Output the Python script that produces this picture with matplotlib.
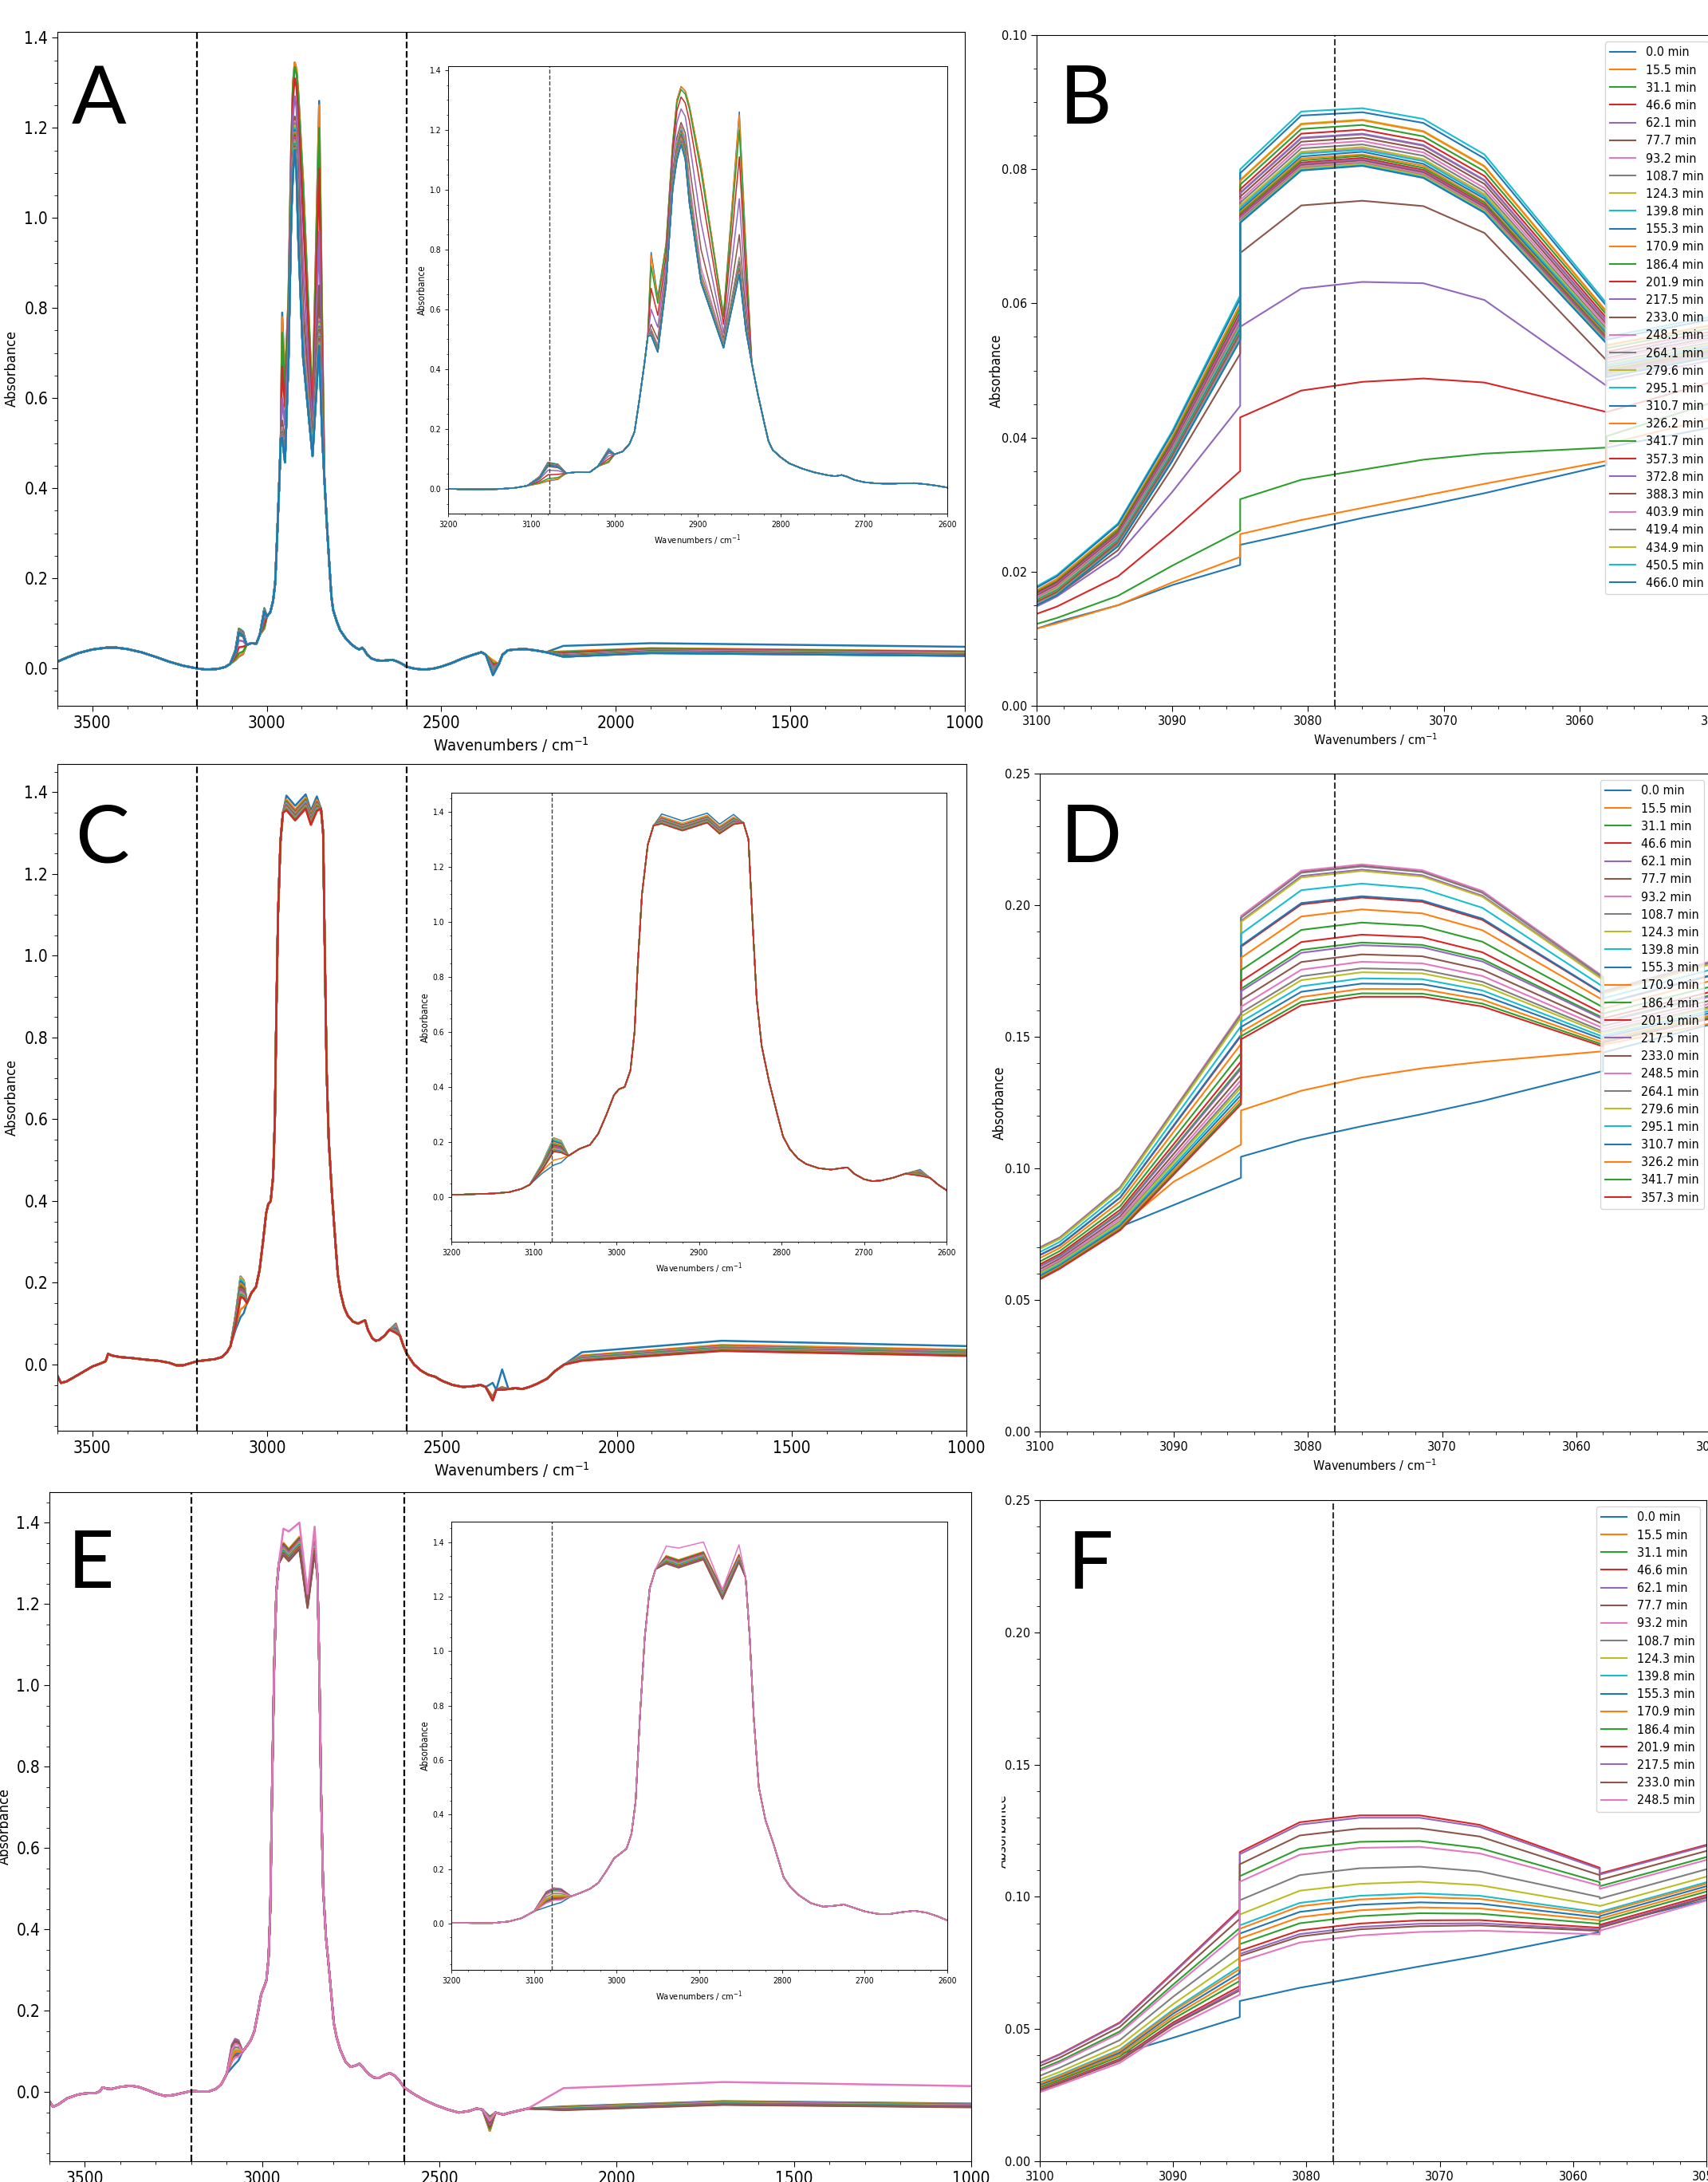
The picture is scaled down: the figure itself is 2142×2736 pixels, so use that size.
import matplotlib
matplotlib.use('Agg')
import matplotlib.pyplot as plt
from matplotlib import font_manager as fm
from matplotlib.ticker import MultipleLocator
from matplotlib.patches import Rectangle

# the original uses a condensed sans; pick the best one that is installed
_fonts = {(f.name, f.stretch) for f in fm.fontManager.ttflist}
_names = {f.name for f in fm.fontManager.ttflist}
if ('DejaVu Sans', 'condensed') in _fonts:
    plt.rcParams['font.family'] = ['DejaVu Sans']
    plt.rcParams['font.stretch'] = 'condensed'
elif 'DejaVu Sans Condensed' in _names:
    plt.rcParams['font.family'] = ['DejaVu Sans Condensed', 'DejaVu Sans']
elif 'Liberation Sans Narrow' in _names:
    plt.rcParams['font.family'] = ['Liberation Sans Narrow', 'DejaVu Sans']
else:
    plt.rcParams['font.family'] = ['DejaVu Sans']

# time stamps of the spectra (legend labels)
times = [0.0, 15.5, 31.1, 46.6, 62.1, 77.7, 93.2, 108.7, 124.3, 139.8, 155.3,
         170.9, 186.4, 201.9, 217.5, 233.0, 248.5, 264.1, 279.6, 295.1, 310.7,
         326.2, 341.7, 357.3, 372.8, 388.3, 403.9, 419.4, 434.9, 450.5, 466.0]
n_a, n_c, n_e = 31, 24, 17

# ---------------- zoomed panels (B, D, F) ----------------
zoom_wn = [3100, 3098.5, 3094, 3090, 3085, 3085, 3080.5, 3076, 3071.5, 3067, 3058, 3058, 3049]

b_rows = [
    [.0115, .0125, .0150, .0180, .0210, .0240, .0260, .0280, .0298, .0317, .0359, .0385, .0420],
    [.0115, .0123, .0150, .0184, .0222, .0256, .0277, .0295, .0313, .0331, .0365, .0390, .0435],
    [.0122, .0131, .0164, .0209, .0261, .0308, .0337, .0352, .0367, .0376, .0385, .0402, .0460],
    [.0137, .0148, .0193, .0260, .0350, .0430, .0470, .0483, .0488, .0482, .0438, .0438, .0490],
    [.0148, .0163, .0225, .0319, .0447, .0565, .0622, .0632, .0630, .0605, .0477, .0485, .0520],
    [.0150, .0165, .0232, .0355, .0525, .0675, .0746, .0753, .0745, .0705, .0515, .0500, .0535],
    [.0158, .0174, .0248, .0378, .0565, .0744, .0824, .0831, .0813, .0761, .0558, .0508, .0543],
    [.0165, .0181, .0256, .0390, .0582, .0764, .0846, .0852, .0835, .0783, .0573, .0523, .0558],
    [.0172, .0189, .0265, .0401, .0599, .0784, .0868, .0874, .0857, .0805, .0588, .0538, .0573],
    [.0178, .0195, .0272, .0410, .0612, .0800, .0886, .0891, .0875, .0822, .0600, .0550, .0585],
    [.0176, .0193, .0270, .0407, .0607, .0794, .0880, .0885, .0869, .0816, .0596, .0546, .0581],
    [.0172, .0189, .0264, .0401, .0598, .0783, .0867, .0873, .0856, .0804, .0587, .0537, .0572],
    [.0170, .0186, .0262, .0397, .0593, .0777, .0860, .0866, .0849, .0797, .0583, .0533, .0568],
    [.0168, .0184, .0259, .0393, .0587, .0770, .0853, .0859, .0842, .0790, .0578, .0528, .0563],
    [.0166, .0182, .0257, .0390, .0583, .0765, .0847, .0853, .0836, .0784, .0574, .0524, .0559],
    [.0164, .0180, .0255, .0387, .0578, .0759, .0841, .0847, .0830, .0778, .0569, .0519, .0554],
    [.0162, .0178, .0253, .0384, .0574, .0754, .0836, .0842, .0825, .0772, .0566, .0516, .0551],
    [.0160, .0176, .0251, .0382, .0570, .0750, .0831, .0837, .0820, .0767, .0562, .0512, .0547],
    [.0159, .0175, .0249, .0379, .0566, .0746, .0826, .0833, .0815, .0763, .0559, .0509, .0544],
    [.0158, .0173, .0248, .0378, .0564, .0742, .0823, .0829, .0812, .0759, .0557, .0507, .0542],
    [.0157, .0172, .0246, .0376, .0561, .0739, .0819, .0826, .0808, .0756, .0554, .0504, .0539],
    [.0156, .0171, .0245, .0374, .0558, .0736, .0816, .0822, .0805, .0752, .0552, .0502, .0537],
    [.0155, .0170, .0244, .0373, .0556, .0734, .0813, .0820, .0802, .0750, .0550, .0500, .0535],
    [.0154, .0169, .0243, .0371, .0554, .0731, .0810, .0817, .0799, .0747, .0548, .0498, .0533],
    [.0153, .0168, .0242, .0370, .0553, .0729, .0808, .0815, .0797, .0745, .0547, .0497, .0532],
    [.0153, .0168, .0241, .0369, .0551, .0727, .0806, .0813, .0795, .0743, .0545, .0495, .0530],
    [.0152, .0167, .0240, .0368, .0550, .0726, .0804, .0811, .0793, .0741, .0544, .0494, .0529],
    [.0151, .0167, .0240, .0367, .0548, .0724, .0802, .0809, .0791, .0739, .0543, .0493, .0528],
    [.0151, .0166, .0239, .0366, .0547, .0722, .0801, .0808, .0790, .0738, .0542, .0492, .0527],
    [.0150, .0165, .0238, .0366, .0546, .0721, .0799, .0806, .0788, .0736, .0541, .0491, .0526],
    [.0150, .0165, .0238, .0365, .0545, .0720, .0798, .0805, .0787, .0735, .0540, .0490, .0525],
]

d_rows = [
    [.0580, .0620, .0778, .0861, .0964, .1044, .1110, .1160, .1206, .1256, .1370, .1440, .1560],
    [.0585, .0625, .0780, .0950, .1090, .1220, .1295, .1345, .1380, .1405, .1445, .1470, .1560],
    [.0628, .0668, .0833, .1078, .1385, .1682, .1830, .1858, .1849, .1795, .1572, .1558, .1670],
    [.0670, .0708, .0889, .1162, .1503, .1842, .2003, .2029, .2013, .1944, .1663, .1625, .1745],
    [.0695, .0733, .0923, .1214, .1576, .1940, .2111, .2135, .2114, .2036, .1718, .1666, .1791],
    [.0699, .0737, .0928, .1222, .1587, .1954, .2126, .2150, .2128, .2050, .1726, .1672, .1798],
    [.0700, .0738, .0930, .1224, .1590, .1959, .2131, .2155, .2133, .2054, .1729, .1674, .1800],
    [.0698, .0736, .0928, .1220, .1585, .1952, .2123, .2147, .2126, .2047, .1725, .1671, .1797],
    [.0694, .0732, .0922, .1212, .1573, .1936, .2105, .2130, .2109, .2032, .1716, .1664, .1789],
    [.0682, .0721, .0906, .1188, .1540, .1891, .2057, .2082, .2063, .1990, .1690, .1646, .1768],
    [.0671, .0709, .0890, .1165, .1507, .1846, .2008, .2034, .2018, .1949, .1665, .1627, .1747],
    [.0659, .0698, .0874, .1140, .1472, .1800, .1957, .1984, .1969, .1905, .1639, .1607, .1725],
    [.0646, .0686, .0857, .1115, .1437, .1753, .1906, .1934, .1921, .1861, .1612, .1588, .1703],
    [.0635, .0675, .0843, .1093, .1406, .1710, .1860, .1888, .1878, .1821, .1588, .1570, .1683],
    [.0626, .0665, .0829, .1073, .1378, .1673, .1819, .1848, .1840, .1786, .1567, .1554, .1666],
    [.0617, .0657, .0818, .1056, .1354, .1640, .1784, .1813, .1806, .1755, .1548, .1541, .1650],
    [.0610, .0651, .0809, .1042, .1335, .1614, .1755, .1785, .1779, .1731, .1533, .1530, .1638],
    [.0604, .0645, .0800, .1030, .1318, .1591, .1730, .1760, .1755, .1709, .1520, .1520, .1627],
    [.0601, .0641, .0796, .1023, .1307, .1577, .1715, .1745, .1741, .1696, .1512, .1514, .1621],
    [.0595, .0636, .0788, .1012, .1292, .1556, .1692, .1722, .1719, .1676, .1500, .1505, .1611],
    [.0590, .0631, .0782, .1002, .1278, .1537, .1671, .1702, .1700, .1659, .1490, .1498, .1602],
    [.0585, .0626, .0775, .0992, .1264, .1518, .1651, .1682, .1681, .1641, .1479, .1490, .1593],
    [.0581, .0622, .0769, .0983, .1252, .1502, .1633, .1665, .1664, .1626, .1470, .1483, .1586],
    [.0578, .0619, .0765, .0977, .1243, .1490, .1620, .1652, .1652, .1615, .1463, .1478, .1580],
]

f_rows = [
    [.0280, .0310, .0405, .0467, .0545, .0606, .0656, .0696, .0737, .0777, .0867, .0890, .1000],
    [.0284, .0313, .0404, .0548, .0698, .0842, .0923, .0949, .0960, .0956, .0911, .0917, .1044],
    [.0279, .0307, .0396, .0538, .0682, .0821, .0900, .0927, .0938, .0936, .0898, .0907, .1034],
    [.0272, .0300, .0387, .0525, .0662, .0796, .0873, .0899, .0911, .0912, .0883, .0894, .1021],
    [.0269, .0296, .0383, .0519, .0653, .0784, .0859, .0886, .0898, .0900, .0876, .0887, .1015],
    [.0267, .0294, .0380, .0515, .0646, .0776, .0850, .0877, .0889, .0892, .0871, .0883, .1011],
    [.0261, .0288, .0372, .0504, .0630, .0755, .0827, .0854, .0867, .0872, .0858, .0872, .1000],
    [.0323, .0354, .0458, .0622, .0811, .0987, .1082, .1108, .1114, .1096, .0999, .0993, .1118],
    [.0309, .0338, .0438, .0594, .0769, .0933, .1023, .1049, .1057, .1044, .0966, .0965, .1090],
    [.0298, .0327, .0422, .0573, .0737, .0892, .0977, .1004, .1013, .1004, .0941, .0943, .1069],
    [.0289, .0318, .0411, .0558, .0712, .0861, .0943, .0970, .0979, .0974, .0922, .0927, .1054],
    [.0294, .0323, .0418, .0567, .0727, .0879, .0964, .0990, .0999, .0992, .0934, .0937, .1063],
    [.0348, .0379, .0491, .0668, .0882, .1078, .1182, .1208, .1211, .1184, .1055, .1040, .1164],
    [.0372, .0405, .0525, .0714, .0953, .1169, .1282, .1308, .1308, .1272, .1110, .1088, .1210],
    [.0370, .0403, .0522, .0710, .0947, .1161, .1273, .1299, .1299, .1264, .1105, .1084, .1206],
    [.0360, .0392, .0508, .0691, .0917, .1123, .1232, .1258, .1259, .1228, .1082, .1064, .1187],
    [.0342, .0373, .0484, .0657, .0866, .1057, .1159, .1185, .1189, .1164, .1042, .1030, .1153],
]

# ---------------- full spectra, panel A ----------------
a_fixed = [(3600, .015), (3570, .025), (3540, .034), (3500, .042), (3460, .046), (3430, .046),
           (3400, .043), (3360, .036), (3320, .026), (3280, .015), (3240, .006), (3200, .000),
           (3180, -.002), (3160, -.002), (3140, -.001), (3120, .003), (3105, .010),
           (3058, .052), (3045, .056), (3030, .055), (3020, .075),
           (3000, .115), (2990, .125), (2982, .150), (2976, .190), (2970, .300), (2964, .420),
           (2960, .510),
           (2835, .420), (2828, .320), (2820, .220), (2815, .160), (2810, .130), (2800, .105),
           (2790, .085), (2775, .068), (2760, .055), (2745, .046), (2735, .042), (2727, .046),
           (2720, .040), (2712, .030), (2700, .022), (2685, .018), (2670, .017), (2655, .018),
           (2640, .019), (2625, .015), (2612, .010), (2600, .004), (2580, .000), (2560, -.002),
           (2540, -.002), (2520, .000), (2500, .004), (2470, .012), (2440, .022), (2410, .030),
           (2385, .036), (2372, .030), (2335, .010), (2325, .030), (2310, .040), (2290, .042),
           (2260, .043), (2230, .040), (2200, .036)]
a_3090 = [.0180, .0184, .0209, .0260, .0319, .0355, .0378, .0390, .0401, .0410, .0407, .0401, .0397, .0393, .0390, .0387,
          .0384, .0382, .0379, .0378, .0376, .0374, .0373, .0371, .0370, .0369, .0368, .0367, .0366, .0366, .0365]
a_3080 = [.0260, .0277, .0337, .0470, .0622, .0746, .0824, .0846, .0868, .0886, .0880, .0867, .0860, .0853, .0847, .0841,
          .0836, .0831, .0826, .0823, .0819, .0816, .0813, .0810, .0808, .0806, .0804, .0802, .0801, .0799, .0798]
a_3068 = [.0317, .0331, .0376, .0482, .0605, .0705, .0761, .0783, .0805, .0822, .0816, .0804, .0797, .0790, .0784, .0778,
          .0772, .0767, .0763, .0759, .0756, .0752, .0750, .0747, .0745, .0743, .0741, .0739, .0738, .0736, .0735]
a_3007 = [.088, .089, .092, .100, .110, .120, .126, .129, .131, .134, .133, .132, .132, .131, .131, .130,
          .130, .130, .129, .129, .129, .129, .128, .128, .128, .128, .128, .128, .127, .127, .127]
a_2956 = [.790, .780, .745, .670, .600, .550, .535, .530, .528, .527, .526, .525, .524, .523, .522, .521,
          .520, .520, .519, .518, .518, .517, .517, .516, .516, .515, .515, .514, .514, .513, .513]
a_2948 = [.640, .630, .620, .580, .540, .500, .480, .475, .470, .470, .468, .467, .466, .465, .464, .463,
          .462, .462, .461, .461, .460, .460, .460, .459, .459, .458, .458, .458, .457, .457, .457]
a_2938 = [.820, .820, .810, .780, .750, .720, .700, .695, .690, .690, .690, .690, .690, .690, .690, .688,
          .688, .688, .687, .687, .686, .686, .686, .685, .685, .685, .685, .684, .684, .684, .684]
a_2930 = [1.160, 1.160, 1.150, 1.130, 1.100, 1.060, 1.040, 1.035, 1.030, 1.030, 1.028, 1.026, 1.024, 1.022, 1.020, 1.018,
          1.016, 1.015, 1.014, 1.013, 1.012, 1.011, 1.010, 1.009, 1.008, 1.007, 1.006, 1.005, 1.004, 1.003, 1.002]
a_2925 = [1.300, 1.300, 1.290, 1.265, 1.225, 1.175, 1.160, 1.155, 1.150, 1.145, 1.140, 1.135, 1.132, 1.128, 1.125, 1.122,
          1.120, 1.117, 1.115, 1.113, 1.111, 1.109, 1.107, 1.105, 1.104, 1.103, 1.102, 1.101, 1.100, 1.099, 1.098]
a_2920 = [1.345, 1.345, 1.335, 1.310, 1.270, 1.225, 1.215, 1.210, 1.205, 1.200, 1.195, 1.190, 1.186, 1.182, 1.179, 1.176,
          1.173, 1.170, 1.168, 1.166, 1.164, 1.162, 1.160, 1.158, 1.157, 1.156, 1.155, 1.154, 1.153, 1.152, 1.151]
a_2915 = [1.330, 1.330, 1.320, 1.290, 1.245, 1.190, 1.170, 1.160, 1.155, 1.150, 1.145, 1.140, 1.136, 1.132, 1.129, 1.126,
          1.123, 1.120, 1.118, 1.116, 1.114, 1.112, 1.110, 1.108, 1.107, 1.106, 1.105, 1.104, 1.103, 1.102, 1.101]
a_2910 = [1.280, 1.280, 1.270, 1.230, 1.160, 1.080, 1.030, 1.010, 1.000, .990, .990, .985, .980, .980, .975, .975,
          .970, .970, .970, .965, .965, .965, .960, .960, .960, .960, .955, .955, .955, .955, .955]
a_2896 = [1.080, 1.080, 1.060, 1.000, .890, .800, .740, .720, .710, .700, .700, .700, .700, .700, .700, .700,
          .700, .695, .695, .695, .695, .695, .690, .690, .690, .690, .690, .690, .690, .690, .690]
a_2869 = [.580, .580, .575, .550, .520, .500, .490, .485, .482, .480, .479, .478, .477, .476, .476, .475,
          .475, .474, .474, .474, .473, .473, .473, .472, .472, .472, .472, .471, .471, .471, .471]
a_2850 = [1.260, 1.250, 1.200, 1.110, .970, .850, .775, .770, .765, .760, .758, .755, .752, .750, .748, .746,
          .744, .742, .740, .738, .736, .734, .732, .730, .728, .726, .724, .722, .720, .718, .716]
a_2842 = [.800, .790, .760, .700, .630, .580, .550, .545, .540, .540, .538, .537, .536, .535, .534, .533,
          .532, .532, .531, .531, .530, .530, .530, .529, .529, .528, .528, .528, .527, .527, .527]
a_2352 = [.005, .018, .012, .008, .004, .000, -.002, -.004, -.005, -.006, -.007, -.008, -.009, -.010, -.010, -.011,
          -.011, -.012, -.012, -.012, -.013, -.013, -.013, -.013, -.014, -.014, -.014, -.014, -.015, -.015, -.015]
a_2150 = [.050, .038, .036, .034, .032, .031, .030, .030, .030, .029, .029, .029, .029, .028, .028, .028,
          .028, .028, .027, .027, .027, .027, .027, .027, .026, .026, .026, .026, .026, .026, .026]
a_1900 = [.056, .045, .044, .043, .042, .041, .040, .040, .039, .039, .038, .038, .038, .038, .037, .037,
          .037, .037, .036, .036, .036, .036, .036, .035, .035, .035, .035, .035, .034, .034, .034]
a_1000 = [.048, .038, .037, .036, .035, .034, .034, .033, .033, .032, .032, .032, .031, .031, .031, .031,
          .030, .030, .030, .030, .030, .029, .029, .029, .029, .029, .028, .028, .028, .028, .028]
a_var = [(3090, a_3090), (3080, a_3080), (3068, a_3068), (3007, a_3007), (2956, a_2956),
         (2948, a_2948), (2938, a_2938), (2930, a_2930), (2925, a_2925), (2920, a_2920),
         (2915, a_2915), (2910, a_2910), (2896, a_2896), (2869, a_2869), (2850, a_2850),
         (2842, a_2842), (2352, a_2352), (2150, a_2150), (1900, a_1900), (1000, a_1000)]

# ---------------- full spectra, panel C ----------------
c_fixed = [(3600, -.028), (3590, -.045), (3575, -.042), (3550, -.030), (3520, -.015), (3500, -.005),
           (3475, .003), (3462, .008), (3455, .026), (3445, .022), (3420, .018), (3390, .016),
           (3350, .012), (3310, .009), (3280, .004), (3260, -.002), (3240, -.002), (3220, .003),
           (3200, .008), (3170, .011), (3150, .013), (3130, .018), (3115, .030), (3105, .045),
           (3058, .150), (3045, .175), (3032, .190), (3022, .230), (3012, .300), (3003, .370),
           (2997, .392), (2990, .400), (2983, .460), (2978, .600), (2974, .850), (2969, 1.100),
           (2962, 1.280), (2955, 1.350), (2846, 1.360), (2840, 1.300), (2835, 1.000), (2830, .720),
           (2824, .550), (2815, .420), (2805, .300), (2798, .220), (2790, .175), (2780, .140),
           (2770, .120), (2755, .105), (2740, .100), (2728, .105), (2720, .108), (2712, .085),
           (2700, .065), (2690, .058), (2680, .060), (2665, .070), (2650, .085), (2620, .070),
           (2610, .045), (2600, .025), (2580, .000), (2560, -.015), (2540, -.025), (2520, -.030),
           (2500, -.040), (2470, -.050), (2440, -.055), (2410, -.053), (2390, -.050), (2375, -.055),
           (2345, -.062), (2310, -.060), (2290, -.058), (2270, -.060), (2250, -.055), (2230, -.048),
           (2200, -.035), (2175, -.015), (2150, .000)]
c_3090 = [.0861, .0950, .1078, .1162, .1214, .1222, .1224, .1220, .1212, .1188, .1165, .1140,
          .1115, .1093, .1073, .1056, .1042, .1030, .1023, .1012, .1002, .0992, .0983, .0977]
c_3076 = [.1160, .1345, .1858, .2029, .2135, .2150, .2155, .2147, .2130, .2082, .2034, .1984,
          .1934, .1888, .1848, .1813, .1785, .1760, .1745, .1722, .1702, .1682, .1665, .1652]
c_3067 = [.1256, .1405, .1795, .1944, .2036, .2050, .2054, .2047, .2032, .1990, .1949, .1905,
          .1861, .1821, .1786, .1755, .1731, .1709, .1696, .1676, .1659, .1641, .1626, .1615]
c_2945 = [1.392, 1.383, 1.378, 1.376, 1.375, 1.374, 1.373, 1.372, 1.371, 1.370, 1.369, 1.368,
          1.367, 1.366, 1.365, 1.364, 1.363, 1.362, 1.361, 1.360, 1.359, 1.358, 1.357, 1.356]
c_2920 = [1.367, 1.358, 1.353, 1.351, 1.350, 1.349, 1.348, 1.347, 1.346, 1.345, 1.344, 1.343,
          1.342, 1.341, 1.340, 1.339, 1.338, 1.337, 1.336, 1.335, 1.334, 1.333, 1.332, 1.331]
c_2890 = [1.395, 1.387, 1.382, 1.380, 1.379, 1.378, 1.377, 1.376, 1.375, 1.374, 1.373, 1.372,
          1.371, 1.370, 1.369, 1.368, 1.367, 1.366, 1.365, 1.364, 1.363, 1.362, 1.361, 1.360]
c_2875 = [1.355, 1.347, 1.342, 1.340, 1.339, 1.338, 1.337, 1.336, 1.335, 1.334, 1.333, 1.332,
          1.331, 1.330, 1.329, 1.328, 1.327, 1.326, 1.325, 1.324, 1.323, 1.322, 1.321, 1.320]
c_2858 = [1.390, 1.381, 1.376, 1.374, 1.373, 1.372, 1.371, 1.370, 1.369, 1.368, 1.367, 1.366,
          1.365, 1.364, 1.363, 1.362, 1.361, 1.360, 1.359, 1.358, 1.357, 1.356, 1.355, 1.354]
c_2632 = [.100, .097, .094, .093, .093, .092, .092, .091, .091, .090, .089, .088,
          .087, .086, .085, .084, .083, .082, .081, .080, .080, .079, .078, .077]
c_2355 = [-.045, -.078, -.080, -.081, -.082, -.083, -.083, -.084, -.084, -.085, -.085, -.085,
          -.086, -.086, -.086, -.087, -.087, -.087, -.087, -.088, -.088, -.088, -.088, -.088]
c_2328 = [-.012, -.055, -.056, -.057, -.057, -.058, -.058, -.058, -.059, -.059, -.059, -.060,
          -.060, -.060, -.060, -.060, -.061, -.061, -.061, -.061, -.062, -.062, -.062, -.062]
c_2100 = [.030, .022, .020, .019, .019, .018, .018, .017, .017, .016, .016, .015,
          .015, .014, .014, .013, .013, .012, .012, .011, .011, .010, .010, .009]
c_1700 = [.058, .048, .045, .044, .044, .043, .043, .042, .042, .041, .041, .040,
          .040, .039, .039, .038, .038, .037, .037, .036, .036, .035, .034, .033]
c_1000 = [.045, .036, .033, .032, .032, .031, .031, .030, .030, .029, .029, .028,
          .028, .027, .027, .026, .026, .025, .025, .024, .024, .023, .022, .021]
c_var = [(3090, c_3090), (3076, c_3076), (3067, c_3067), (2945, c_2945), (2920, c_2920),
         (2890, c_2890), (2875, c_2875), (2858, c_2858), (2632, c_2632), (2355, c_2355),
         (2328, c_2328), (2100, c_2100), (1700, c_1700), (1000, c_1000)]

# ---------------- full spectra, panel E ----------------
e_fixed = [(3600, -.022), (3590, -.036), (3575, -.030), (3550, -.015), (3520, -.006), (3500, -.003),
           (3470, -.002), (3458, .002), (3450, .012), (3440, .009), (3425, .008), (3400, .013),
           (3370, .016), (3345, .012), (3320, .004), (3300, -.003), (3275, -.009), (3250, -.007),
           (3225, -.002), (3200, .003), (3175, .002), (3150, .002), (3130, .008), (3115, .020),
           (3100, .045), (3055, .100), (3042, .115), (3032, .128), (3022, .150), (3012, .195),
           (3003, .240), (2995, .258), (2988, .275), (2982, .330), (2977, .450), (2972, .750),
           (2966, 1.050), (2960, 1.230), (2953, 1.300), (2844, 1.270), (2839, 1.050), (2834, .750),
           (2828, .500), (2820, .380), (2810, .290), (2803, .220), (2798, .170), (2790, .135),
           (2780, .105), (2765, .075), (2750, .062), (2735, .066), (2725, .070), (2715, .060),
           (2700, .045), (2685, .036), (2670, .035), (2655, .042), (2640, .047), (2625, .040),
           (2612, .027), (2600, .012), (2575, -.003), (2545, -.018), (2510, -.032), (2475, -.043),
           (2445, -.050), (2415, -.046), (2395, -.040), (2378, -.043), (2342, -.050), (2320, -.055),
           (2300, -.050), (2280, -.046), (2250, -.040)]
e_3085 = [.0606, .0842, .0821, .0796, .0784, .0776, .0755, .0987, .0933, .0892, .0861, .0879, .1078, .1169, .1161, .1123, .1057]
e_3076 = [.0696, .0949, .0927, .0899, .0886, .0877, .0854, .1108, .1049, .1004, .0970, .0990, .1208, .1308, .1299, .1258, .1185]
e_3067 = [.0777, .0956, .0936, .0912, .0900, .0892, .0872, .1096, .1044, .1004, .0974, .0992, .1184, .1272, .1264, .1228, .1164]
e_2940 = [1.345, 1.350, 1.348, 1.345, 1.342, 1.340, 1.338, 1.336, 1.334, 1.332, 1.330, 1.328, 1.326, 1.324, 1.322, 1.320, 1.385]
e_2925 = [1.330, 1.335, 1.333, 1.330, 1.327, 1.325, 1.323, 1.321, 1.319, 1.317, 1.315, 1.313, 1.311, 1.309, 1.307, 1.305, 1.378]
e_2895 = [1.360, 1.365, 1.362, 1.360, 1.357, 1.355, 1.353, 1.351, 1.349, 1.347, 1.345, 1.343, 1.341, 1.339, 1.337, 1.335, 1.400]
e_2872 = [1.210, 1.225, 1.222, 1.220, 1.217, 1.215, 1.212, 1.210, 1.207, 1.205, 1.202, 1.200, 1.197, 1.195, 1.192, 1.190, 1.225]
e_2852 = [1.345, 1.355, 1.352, 1.350, 1.347, 1.345, 1.343, 1.341, 1.339, 1.337, 1.335, 1.333, 1.331, 1.329, 1.327, 1.325, 1.390]
e_2358 = [-.060, -.065, -.070, -.075, -.080, -.085, -.085, -.090, -.090, -.095, -.095, -.095, -.090, -.085, -.080, -.075, -.070]
e_2150 = [-.035, -.036, -.037, -.038, -.038, -.039, -.039, -.040, -.040, -.041, -.041, -.042, -.042, -.043, -.043, -.044, .010]
e_1700 = [-.022, -.023, -.024, -.025, -.025, -.026, -.026, -.027, -.027, -.028, -.028, -.029, -.029, -.030, -.030, -.031, .025]
e_1000 = [-.028, -.029, -.030, -.031, -.031, -.032, -.032, -.033, -.033, -.034, -.034, -.035, -.035, -.036, -.036, -.037, .015]
e_var = [(3085, e_3085), (3076, e_3076), (3067, e_3067), (2940, e_2940), (2925, e_2925),
         (2895, e_2895), (2872, e_2872), (2852, e_2852), (2358, e_2358), (2150, e_2150),
         (1700, e_1700), (1000, e_1000)]


def spectrum(fixed, var, k):
    pts = list(fixed) + [(w, vals[k]) for w, vals in var]
    pts.sort(key=lambda p: p[0], reverse=True)
    return [p[0] for p in pts], [p[1] for p in pts]


W, H = 2142, 2736
fig = plt.figure(figsize=(W / 100, H / 100), dpi=100)


def frac(left, top, right, bottom):
    return [left / W, 1 - bottom / H, (right - left) / W, (bottom - top) / H]


def letter(ch, x, y_base):
    fig.text(x / W, 1 - y_base / H, ch, fontsize=73, family=['Lato', 'DejaVu Sans'],
             stretch='normal', ha='center', va='baseline')


def main_panel(box, inset_box, fixed, var, n, ylab_x):
    ax = fig.add_axes(frac(*box))
    ins = fig.add_axes(frac(*inset_box))
    for k in range(n):
        wn, ab = spectrum(fixed, var, k)
        ax.plot(wn, ab, lw=1.8)
        ins.plot(wn, ab, lw=1.1)
    for x in (3200, 2600):
        ax.axvline(x, color='black', ls='--', lw=1.6)
    ax.set_xlim(3600, 1000)
    ax.xaxis.set_major_locator(MultipleLocator(500))
    ax.yaxis.set_major_locator(MultipleLocator(0.2))
    ax.minorticks_on()
    ax.tick_params(labelsize=15, length=5)
    ax.tick_params(which='minor', length=3)
    ax.set_xlabel('Wavenumbers / cm$^{-1}$', fontsize=14.5)
    ax.set_ylabel('Absorbance', fontsize=13)
    ax.yaxis.set_label_coords(ylab_x, 0.5)

    ins.axvline(3078, color='0.25', ls='--', lw=1.0)
    ins.set_xlim(3200, 2600)
    ins.xaxis.set_major_locator(MultipleLocator(100))
    ins.yaxis.set_major_locator(MultipleLocator(0.2))
    ins.minorticks_on()
    ins.tick_params(labelsize=7.5, length=3, width=0.6)
    ins.tick_params(which='minor', length=1.5, width=0.5)
    ins.set_xlabel('Wavenumbers / cm$^{-1}$', fontsize=8)
    ins.set_ylabel('Absorbance', fontsize=8.5)
    ins.yaxis.set_label_coords(-0.042, 0.5)
    for s in ins.spines.values():
        s.set_linewidth(0.7)
    return ax


def zoom_panel(box, rows, n, ymax, ystep, ylab_x):
    ax = fig.add_axes(frac(*box))
    for k in range(n):
        ax.plot(zoom_wn, rows[k], lw=1.5, label=f'{times[k]:.1f} min')
    ax.axvline(3078, color='0.2', ls='--', lw=1.5)
    ax.set_xlim(3100, 3050)
    ax.set_ylim(0, ymax)
    ax.xaxis.set_major_locator(MultipleLocator(10))
    ax.yaxis.set_major_locator(MultipleLocator(ystep))
    ax.minorticks_on()
    ax.tick_params(labelsize=11.5, length=5)
    ax.tick_params(which='minor', length=3)
    ax.set_xlabel('Wavenumbers / cm$^{-1}$', fontsize=11.5)
    ax.set_ylabel('Absorbance', fontsize=12.5)
    ax.yaxis.set_label_coords(ylab_x, 0.5)
    ax.legend(loc='upper right', fontsize=11.5, labelspacing=0.45)
    return ax


# left column: full spectra with insets
main_panel((72, 40, 1210, 885), (562, 83, 1188, 644), a_fixed, a_var, n_a, -0.042)
main_panel((72, 958, 1212, 1794), (566, 994, 1187, 1557), c_fixed, c_var, n_c, -0.042)
main_panel((62, 1871, 1218, 2710), (566, 1908, 1188, 2470), e_fixed, e_var, n_e, -0.041)

# right column: zoom on the 3078 band (cut at the figure edge)
zoom_panel((1300, 44, 2151, 885), b_rows, n_a, 0.10, 0.02, -0.048)
zoom_panel((1304, 970, 2145, 1795), d_rows, n_c, 0.25, 0.05, -0.049)
zoom_panel((1304, 1881, 2140, 2710), f_rows, n_e, 0.25, 0.05, -0.046)

# the F y-label is partly masked in the original
fig.add_artist(Rectangle((1238 / W, 1 - 2420 / H), 17 / W, 250 / H,
                         transform=fig.transFigure, color='white', zorder=20))

letter('A', 124, 155)
letter('B', 1362, 155)
letter('C', 128, 1081)
letter('D', 1368, 1081)
letter('E', 114, 1991)
letter('F', 1367, 1992)

fig.savefig('out.png', dpi=100)
